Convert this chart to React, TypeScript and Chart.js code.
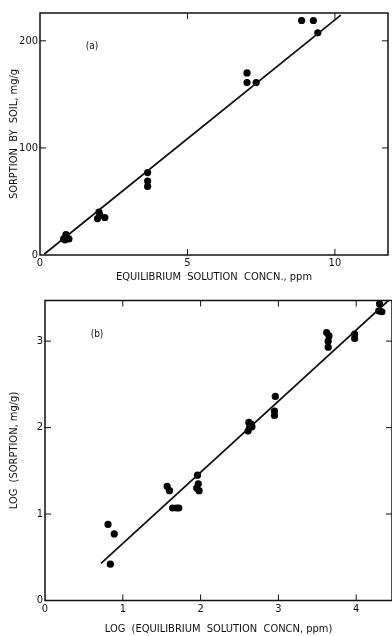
import React, { useEffect, useRef } from "react";
import { Chart, registerables } from "chart.js";

Chart.register(...registerables);

// ---------- Panel (a) data ----------
const A_X = [0.8, 0.88, 0.98, 0.85, 1.95, 2.0, 2.03, 2.2, 3.65, 3.65, 3.65, 7.02, 7.02, 7.33, 8.87, 9.27, 9.42];
const A_Y = [15, 19, 15, 14, 34, 40, 37, 35, 77, 69, 64, 170, 161, 161, 219, 219, 207.5];
const A_LINE_X = [0.15, 10.2];
const A_LINE_Y = [1, 224];
const A_XTICKS = [0, 5, 10];
const A_YTICKS = [0, 100, 200];
const A_XTITLE = "EQUILIBRIUM  SOLUTION  CONCN., ppm";
const A_YTITLE = "SORPTION  BY  SOIL, mg/g";
const A_LABEL = "(a)";

// ---------- Panel (b) data ----------
const B_X = [0.81, 0.89, 0.84, 1.57, 1.6, 1.64, 1.69, 1.72, 1.96, 1.97, 1.95, 1.98, 2.62, 2.65, 2.63, 2.61, 2.66, 2.96, 2.95, 2.95, 3.62, 3.65, 3.64, 3.64, 3.98, 3.98, 4.3, 4.29, 4.33];
const B_Y = [0.88, 0.77, 0.42, 1.32, 1.27, 1.07, 1.07, 1.07, 1.45, 1.35, 1.3, 1.27, 2.06, 2.04, 2.0, 1.96, 2.01, 2.36, 2.19, 2.14, 3.1, 3.06, 3.0, 2.93, 3.08, 3.03, 3.43, 3.35, 3.34];
const B_LINE_X = [0.72, 4.5];
const B_LINE_Y = [0.43, 3.54];
const B_XTICKS = [0, 1, 2, 3, 4];
const B_YTICKS = [0, 1, 2, 3];
const B_XTITLE = "LOG  (EQUILIBRIUM  SOLUTION  CONCN, ppm)";
const B_YTITLE = "LOG  (SORPTION, mg/g)";
const B_LABEL = "(b)";

const FONT = "'DejaVu Sans Condensed', 'Liberation Sans', sans-serif";
const INK = "#111";

type PanelSpec = {
  xs: number[];
  ys: number[];
  lx: number[];
  ly: number[];
  xTicks: number[];
  yTicks: number[];
  xMin: number;
  xMax: number;
  yMin: number;
  yMax: number;
  xTitle: string;
  yTitle: string;
  label: string;
  labelDx: number;
  labelDy: number;
  yScaleWidth: number;
  xScaleHeight: number;
  padTop: number;
  padRight: number;
  xTitlePadBottom: number;
};

function framePlugin(spec: PanelSpec) {
  return {
    id: "frameTicks",
    afterDraw(chart: any) {
      const { ctx, chartArea } = chart;
      const { left, right, top, bottom } = chartArea;
      const xs = chart.scales.x;
      const ys = chart.scales.y;
      ctx.save();
      ctx.strokeStyle = INK;
      ctx.lineWidth = 1.5;
      ctx.strokeRect(left, top, right - left, bottom - top);
      ctx.lineWidth = 1;
      const L = 6;
      ctx.beginPath();
      spec.xTicks.forEach((v) => {
        if (v === spec.xMin) return;
        const px = xs.getPixelForValue(v);
        ctx.moveTo(px, top);
        ctx.lineTo(px, top + L);
        ctx.moveTo(px, bottom);
        ctx.lineTo(px, bottom - L);
      });
      spec.yTicks.forEach((v) => {
        if (v === spec.yMin) return;
        const py = ys.getPixelForValue(v);
        ctx.moveTo(left, py);
        ctx.lineTo(left + L, py);
        ctx.moveTo(right, py);
        ctx.lineTo(right - L, py);
      });
      ctx.stroke();
      ctx.fillStyle = INK;
      ctx.font = `10px ${FONT}`;
      ctx.textAlign = "center";
      ctx.textBaseline = "middle";
      ctx.fillText(spec.label, left + spec.labelDx, top + spec.labelDy);
      ctx.restore();
    },
  };
}

function makeConfig(spec: PanelSpec): any {
  const points = spec.xs.map((x, i) => ({ x, y: spec.ys[i] }));
  const line = spec.lx.map((x, i) => ({ x, y: spec.ly[i] }));
  return {
    type: "scatter",
    data: {
      datasets: [
        {
          type: "line",
          data: line,
          borderColor: INK,
          borderWidth: 1.8,
          pointRadius: 0,
          fill: false,
          showLine: true,
        },
        {
          type: "scatter",
          data: points,
          backgroundColor: "#000",
          borderWidth: 0,
          pointRadius: 3.6,
        },
      ],
    },
    options: {
      animation: false,
      responsive: false,
      devicePixelRatio: 1,
      layout: { padding: { top: spec.padTop, right: spec.padRight, left: 0, bottom: 0 } },
      plugins: { legend: { display: false }, tooltip: { enabled: false } },
      scales: {
        x: {
          type: "linear",
          min: spec.xMin,
          max: spec.xMax,
          afterBuildTicks: (s: any) => {
            s.ticks = spec.xTicks.map((v) => ({ value: v }));
          },
          afterFit: (s: any) => {
            s.height = spec.xScaleHeight;
          },
          grid: { display: false, drawTicks: false },
          border: { display: false },
          ticks: {
            color: INK,
            font: { family: FONT, size: 11 },
            padding: 2,
            maxRotation: 0,
            autoSkip: false,
          },
          title: {
            display: true,
            text: spec.xTitle,
            color: INK,
            font: { family: FONT, size: 11 },
            padding: { top: 0, bottom: spec.xTitlePadBottom },
          },
        },
        y: {
          type: "linear",
          min: spec.yMin,
          max: spec.yMax,
          afterBuildTicks: (s: any) => {
            s.ticks = spec.yTicks.map((v) => ({ value: v }));
          },
          afterFit: (s: any) => {
            s.width = spec.yScaleWidth;
          },
          grid: { display: false, drawTicks: false },
          border: { display: false },
          ticks: {
            color: INK,
            font: { family: FONT, size: 11 },
            padding: 2,
            autoSkip: false,
          },
          title: {
            display: true,
            text: spec.yTitle,
            color: INK,
            font: { family: FONT, size: 11 },
            padding: { top: 8, bottom: 0 },
          },
        },
      },
    },
    plugins: [framePlugin(spec)],
  };
}

const SPEC_A: PanelSpec = {
  xs: A_X,
  ys: A_Y,
  lx: A_LINE_X,
  ly: A_LINE_Y,
  xTicks: A_XTICKS,
  yTicks: A_YTICKS,
  xMin: 0,
  xMax: 11.8,
  yMin: 0,
  yMax: 226,
  xTitle: A_XTITLE,
  yTitle: A_YTITLE,
  label: A_LABEL,
  labelDx: 52,
  labelDy: 33,
  yScaleWidth: 40,
  xScaleHeight: 35,
  padTop: 13,
  padRight: 1,
  xTitlePadBottom: 6,
};

const SPEC_B: PanelSpec = {
  xs: B_X,
  ys: B_Y,
  lx: B_LINE_X,
  ly: B_LINE_Y,
  xTicks: B_XTICKS,
  yTicks: B_YTICKS,
  xMin: 0,
  xMax: 4.46,
  yMin: 0,
  yMax: 3.47,
  xTitle: B_XTITLE,
  yTitle: B_YTITLE,
  label: B_LABEL,
  labelDx: 52,
  labelDy: 34,
  yScaleWidth: 45,
  xScaleHeight: 35.5,
  padTop: 10.5,
  padRight: 2,
  xTitlePadBottom: 0,
};

function Panel({ spec, width, height, top }: { spec: PanelSpec; width: number; height: number; top: number }) {
  const ref = useRef<HTMLCanvasElement | null>(null);
  useEffect(() => {
    if (!ref.current) return;
    const chart = new Chart(ref.current, makeConfig(spec));
    return () => chart.destroy();
  }, [spec]);
  return (
    <canvas
      ref={ref}
      width={width}
      height={height}
      style={{ position: "absolute", left: 0, top, width, height, display: "block" }}
    />
  );
}

export default function App() {
  return (
    <div
      style={{
        position: "fixed",
        left: 0,
        top: 0,
        width: 392,
        height: 636,
        overflow: "hidden",
        background: "#fff",
      }}
    >
      <Panel spec={SPEC_A} width={392} height={290} top={0} />
      <Panel spec={SPEC_B} width={396} height={346} top={290} />
    </div>
  );
}
